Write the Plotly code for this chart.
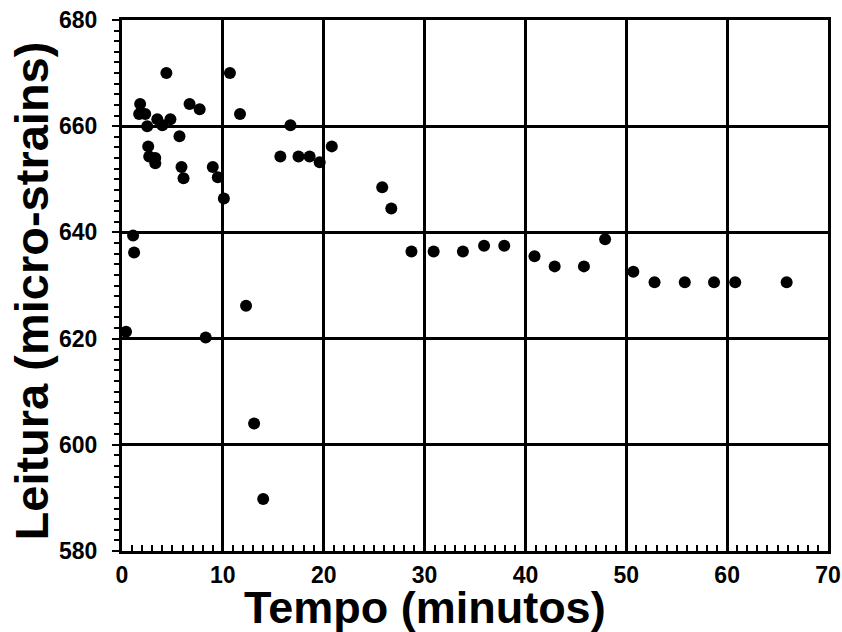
import plotly.graph_objects as go

# tempo (minutos) e leitura (micro-strains)
tempo = [0.4, 1.1, 1.2, 1.8, 1.7, 2.3, 2.5, 4.4, 3.5, 4.0, 4.8, 6.7, 7.7,
         10.7, 11.7, 16.7, 5.7, 2.6, 2.7, 3.3, 3.3, 5.9, 6.1, 9.0, 9.5,
         10.1, 15.7, 17.5, 18.6, 19.6, 20.8, 25.8, 26.7, 28.7, 30.9, 33.8,
         35.9, 37.9, 40.9, 42.9, 45.8, 47.9, 50.7, 52.8, 55.8, 58.7, 60.8,
         65.9, 8.3, 12.3, 13.1, 14.0]
leitura = [621.3, 639.4, 636.2, 664.2, 662.3, 662.3, 660.0, 670.0, 661.3,
           660.2, 661.3, 664.2, 663.2, 670.0, 662.3, 660.2, 658.1, 656.2,
           654.3, 654.0, 653.0, 652.3, 650.2, 652.3, 650.4, 646.4, 654.3,
           654.3, 654.3, 653.2, 656.2, 648.5, 644.5, 636.4, 636.4, 636.4,
           637.5, 637.5, 635.5, 633.6, 633.6, 638.7, 632.6, 630.6, 630.6,
           630.6, 630.6, 630.6, 620.2, 626.2, 604.0, 589.8]

fig = go.Figure()
fig.add_trace(go.Scatter(x=tempo, y=leitura, mode="markers",
                         marker=dict(color="black", size=12),
                         showlegend=False))

fonte = "Liberation Sans, Arial"
fig.update_xaxes(range=[0, 70], dtick=10, showgrid=True, gridcolor="black",
                 gridwidth=2.5, showline=True, linecolor="black", linewidth=3,
                 mirror=True, zeroline=False, ticks="inside", ticklen=7,
                 tickwidth=2, tickcolor="black", automargin=False,
                 ticklabelstandoff=1, ticklabeloverflow="allow",
                 minor=dict(dtick=1, ticks="inside", ticklen=6, tickwidth=2,
                            tickcolor="black", showgrid=False),
                 tickfont=dict(family=fonte, size=23, color="black", weight="bold"))
fig.update_yaxes(range=[580, 680], dtick=20, showgrid=True, gridcolor="black",
                 gridwidth=2.5, showline=True, linecolor="black", linewidth=3,
                 mirror=True, zeroline=False, ticks="outside", ticklen=7,
                 tickwidth=2, tickcolor="black", automargin=False,
                 ticklabelstandoff=10, ticklabeloverflow="allow",
                 minor=dict(dtick=2, ticks="outside", ticklen=5, tickwidth=2,
                            tickcolor="black", showgrid=False),
                 tickfont=dict(family=fonte, size=23, color="black", weight="bold"))

# titulos dos eixos
fig.add_annotation(text="Tempo (minutos)", xref="paper", yref="paper",
                   x=0.429, y=-0.106, yanchor="middle", showarrow=False,
                   font=dict(family=fonte, size=45, color="black", weight="bold"))
fig.add_annotation(text="Leitura (micro-strains)", xref="paper", yref="paper",
                   x=-0.128, y=0.49, textangle=-90, xanchor="center",
                   showarrow=False,
                   font=dict(family=fonte, size=47, color="black", weight="bold"))

fig.update_layout(width=842, height=632, plot_bgcolor="white",
                  paper_bgcolor="white",
                  margin=dict(l=122, r=14, t=20, b=81))

fig.write_html("out.html", config={"displayModeBar": False},
               post_script="document.body.style.margin='0';")
